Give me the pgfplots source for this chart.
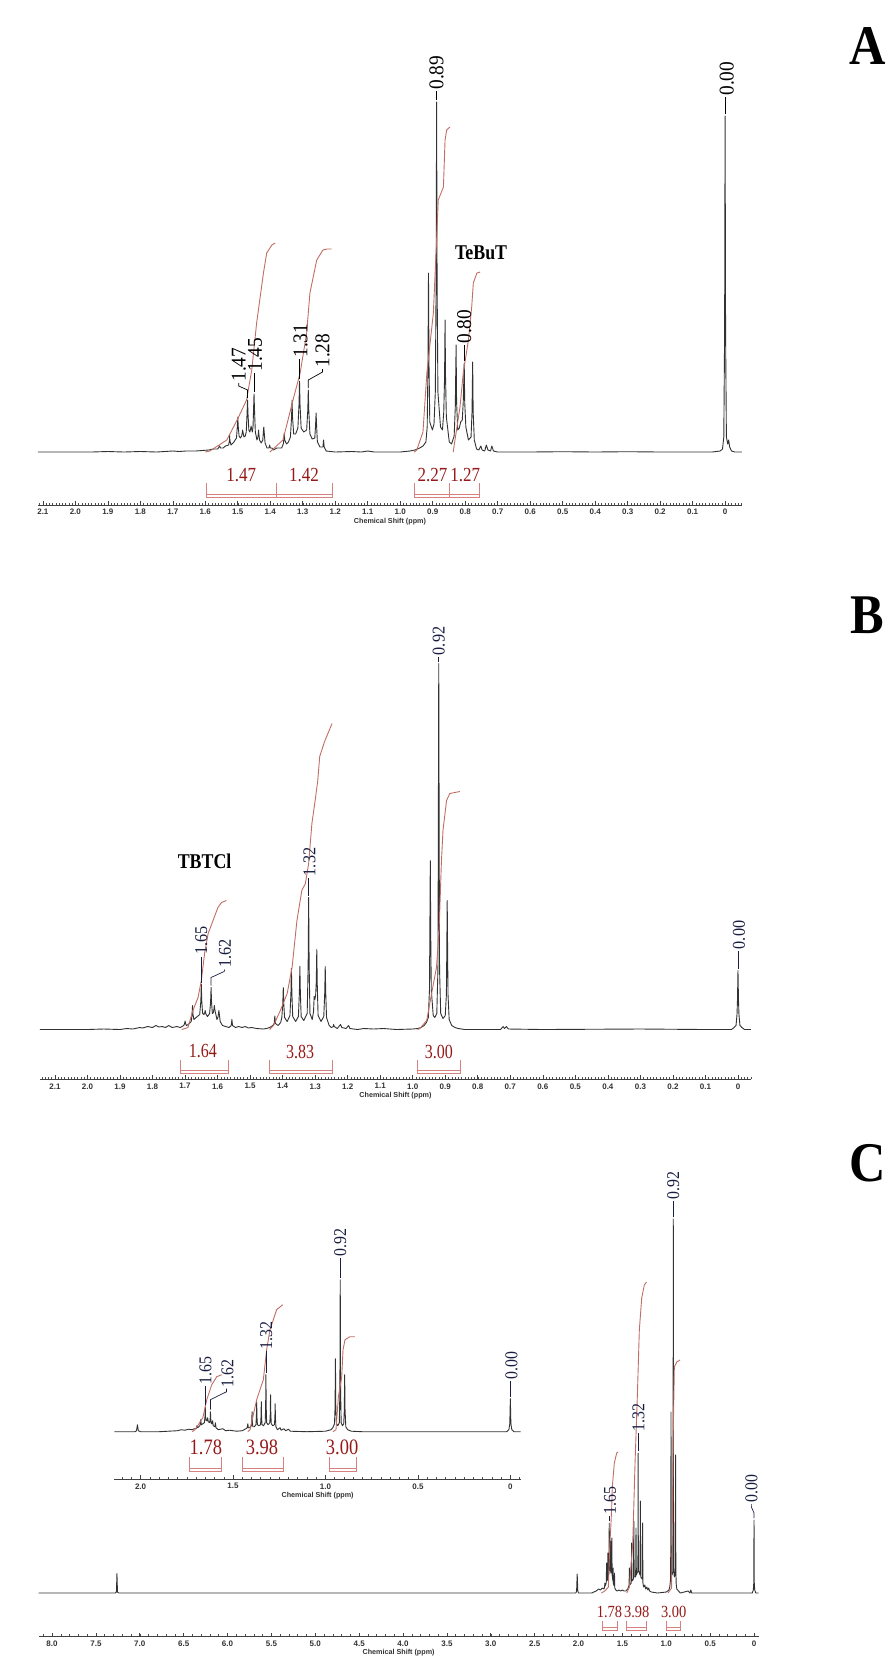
\documentclass[border=0pt]{standalone}
\usepackage{graphicx}
\usepackage{pgfplots}
\pgfplotsset{compat=1.18}
\usepackage{fontspec}
\setmainfont{Liberation Serif}
\newfontfamily\arialfont{Liberation Sans}
\definecolor{specc}{RGB}{50,50,50}
\definecolor{intc}{RGB}{192,110,100}
\definecolor{brkc}{RGB}{214,128,128}
\definecolor{intn}{RGB}{150,25,25}
\definecolor{navy}{RGB}{25,30,65}
\pgfplotsset{
 nmr/.style={scale only axis, clip=false, x dir=reverse, enlargelimits=false,
  axis x line*=bottom, axis y line=none,
  x axis line style={-, line width=0.4pt, black!75},
  tick align=inside, major tick length=2pt, minor tick length=1.2pt,
  major tick style={line width=0.3pt, black!75}, minor tick style={line width=0.25pt, black!70},
  xticklabel style={font=\arialfont\bfseries\fontsize{4}{4}\selectfont, text=black!80, inner sep=0pt, anchor=north, yshift=-2pt},
 },
 spec/.style={specc, line width=0.45pt, line join=round, mark=none},
 integ/.style={intc, line width=0.45pt, mark=none},
}
\tikzset{
 brk/.style={brkc, line width=0.45pt},
 lead/.style={line width=0.35pt},
 plA/.style={rotate=90, anchor=west, inner sep=0pt, font=\fontsize{10.5}{10.5}\selectfont},
 plB/.style={rotate=90, anchor=west, inner sep=0pt, font=\fontsize{9}{9}\selectfont, text=navy},
 csl/.style={font=\arialfont\bfseries\fontsize{3.6}{3.6}\selectfont, text=black!80, inner sep=0pt},
 inum/.style={inner sep=0pt, text=intn},
}
\begin{document}
\begin{tikzpicture}
\useasboundingbox (0,0) rectangle (444.5pt,-838.5pt);
% ---------------- Panel A ----------------
\begin{axis}[nmr, at={(19pt,-252.5pt)}, anchor=south west, width=352pt, height=232.5pt,
 xmin=-0.052, xmax=2.115, ymin=-53, ymax=412,
 xtick={0,0.1,0.2,0.3,0.4,0.5,0.6,0.7,0.8,0.9,1.0,1.1,1.2,1.3,1.4,1.5,1.6,1.7,1.8,1.9,2.0,2.1},
 xticklabels={0,0.1,0.2,0.3,0.4,0.5,0.6,0.7,0.8,0.9,1.0,1.1,1.2,1.3,1.4,1.5,1.6,1.7,1.8,1.9,2.0,2.1},
 minor xtick={-0.05,-0.04,...,2.11}]
\addplot[spec] coordinates {(2.115,0)(1.95,0)(1.90,0.5)(1.85,0)(1.80,0.5)(1.75,0)(1.70,1)(1.68,0.5)(1.66,1)(1.63,1)(1.61,1.5)(1.59,2)(1.575,3)(1.562,3)
(1.556,6)(1.553,4)(1.545,4)(1.538,6)
(1.528,7)(1.5255,12)(1.525,17)(1.5245,12)(1.521,7)(1.512,10)
(1.504,14)(1.5015,25)(1.500,35)(1.4985,25)(1.496,16)(1.492,14)
(1.488,16)(1.4865,19)(1.485,22)(1.4835,19)(1.481,15)(1.477,16)
(1.474,20)(1.4715,38)(1.470,52)(1.4685,38)(1.466,22)(1.463,20)
(1.4605,23)(1.459,26)(1.4575,23)(1.455,20)
(1.453,26)(1.4515,42)(1.450,58)(1.4485,42)(1.446,20)(1.441,12)
(1.438,15)(1.4365,19)(1.436,22)(1.4355,19)(1.433,12)(1.428,9)
(1.423,12)(1.4215,19)(1.420,25)(1.4185,19)(1.416,9)(1.41,4)
(1.404,4)(1.402,7)(1.400,4)(1.395,4)(1.39,2)(1.385,3)(1.38,4)(1.374,4)
(1.365,4)(1.360,8)(1.3585,12)(1.357,19)(1.3555,12)(1.350,8)(1.344,10)
(1.338,15)(1.3345,35)(1.333,52)(1.3315,35)(1.328,18)(1.322,18)
(1.315,24)(1.3115,48)(1.310,71)(1.3085,48)(1.305,24)(1.297,20)
(1.288,22)(1.2845,42)(1.283,62)(1.2815,42)(1.278,18)(1.271,13)
(1.263,14)(1.2605,27)(1.259,39)(1.2575,27)(1.255,10)(1.247,5)
(1.238,5)(1.236,12)(1.234,5)(1.228,1)(1.20,0)(1.15,0.5)(1.12,0)(1.10,1)(1.08,0)(1.05,0)(1.00,0)(0.97,1)(0.955,2)(0.94,4)(0.93,6)
(0.921,10)(0.917,25)(0.9145,90)(0.913,179)(0.9115,90)(0.909,30)(0.901,22)
(0.896,28)(0.892,60)(0.8895,170)(0.888,350)(0.8865,170)(0.884,60)(0.876,25)
(0.870,22)(0.866,40)(0.8635,75)(0.862,132)(0.8605,75)(0.858,35)(0.849,10)(0.842,8)
(0.834,16)(0.8305,45)(0.828,107)(0.8265,50)(0.823,22)(0.818,24)(0.814,30)
(0.809,32)(0.806,50)(0.803,89)(0.8015,50)(0.798,25)(0.790,12)
(0.782,15)(0.779,40)(0.777,90)(0.7755,40)(0.772,12)
(0.765,3)(0.758,2)(0.752,6)(0.748,2)(0.740,1)(0.735,7)(0.730,2)(0.722,1)(0.718,6)(0.713,1)(0.70,0)
(0.6,0)(0.5,0.3)(0.4,0)(0.3,0.3)(0.2,0)(0.1,0)(0.04,0)(0.015,1)(0.008,3)(0.004,15)(0.0015,120)(0,336)(-0.0015,120)(-0.004,15)(-0.008,8)(-0.011,12)(-0.014,5)(-0.02,1)(-0.03,0)(-0.052,0)};
% integrals
\addplot[integ] coordinates {(1.60,0)(1.586,1)(1.534,12)(1.502,32)(1.473,52)(1.457,82)(1.442,129)(1.421,179)(1.411,199)(1.395,207)(1.385,209)};
\addplot[integ] coordinates {(1.401,0)(1.361,12)(1.330,52)(1.308,79)(1.288,119)(1.278,159)(1.257,192)(1.238,202)(1.225,203)(1.211,203)};
\addplot[integ] coordinates {(0.957,0)(0.949,2)(0.930,20)(0.918,79)(0.898,139)(0.888,212)(0.883,252)(0.867,265)(0.862,312)(0.857,322)(0.847,325)};
\addplot[integ] coordinates {(0.837,0)(0.816,45)(0.806,79)(0.790,112)(0.780,145)(0.775,169)(0.764,179)(0.754,180)};
% peak labels
\draw[lead] (axis cs:0.888,352) -- (axis cs:0.888,361);
\node[plA] at (axis cs:0.888,362) {\scalebox{0.92}[1]{0.89}};
\draw[lead] (axis cs:0,338) -- (axis cs:0,355);
\node[plA] at (axis cs:-0.005,356) {\scalebox{0.92}[1]{0.00}};
\draw[lead] (axis cs:1.470,54) -- (axis cs:1.470,62) -- (axis cs:1.497,66) -- (axis cs:1.497,69);
\node[plA] at (axis cs:1.497,70) {\scalebox{0.92}[1]{1.47}};
\draw[lead] (axis cs:1.450,60) -- (axis cs:1.450,79);
\node[plA] at (axis cs:1.447,80) {\scalebox{0.92}[1]{1.45}};
\draw[lead] (axis cs:1.310,73) -- (axis cs:1.310,93);
\node[plA] at (axis cs:1.307,94) {\scalebox{0.92}[1]{1.31}};
\draw[lead] (axis cs:1.283,64) -- (axis cs:1.283,72) -- (axis cs:1.239,80) -- (axis cs:1.239,83);
\node[plA] at (axis cs:1.239,84) {\scalebox{0.92}[1]{1.28}};
\draw[lead] (axis cs:0.803,91) -- (axis cs:0.803,107);
\node[plA] at (axis cs:0.803,108) {\scalebox{0.92}[1]{0.80}};
\node[font=\bfseries\fontsize{10.5}{10.5}\selectfont, inner sep=0pt] at (axis cs:0.751,199) {\scalebox{0.85}[1]{TeBuT}};
% integral numbers and brackets
\node[inum, font=\fontsize{10}{10}\selectfont] at (axis cs:1.489,-23) {\scalebox{0.85}[1]{1.47}};
\node[inum, font=\fontsize{10}{10}\selectfont] at (axis cs:1.296,-23) {\scalebox{0.85}[1]{1.42}};
\node[inum, font=\fontsize{10}{10}\selectfont] at (axis cs:0.901,-23) {\scalebox{0.85}[1]{2.27}};
\node[inum, font=\fontsize{10}{10}\selectfont] at (axis cs:0.800,-23) {\scalebox{0.85}[1]{1.27}};
\draw[brk] (axis cs:1.598,-31.3) -- (axis cs:1.598,-45.3) -- (axis cs:1.382,-45.3) -- (axis cs:1.382,-31.3);
\draw[brk] (axis cs:1.598,-42.3) -- (axis cs:1.382,-42.3);
\draw[brk] (axis cs:1.382,-45.3) -- (axis cs:1.210,-45.3) -- (axis cs:1.210,-31.3);
\draw[brk] (axis cs:1.382,-42.3) -- (axis cs:1.210,-42.3);
\draw[brk] (axis cs:0.957,-31.3) -- (axis cs:0.957,-45.3) -- (axis cs:0.850,-45.3) -- (axis cs:0.850,-31.3);
\draw[brk] (axis cs:0.957,-42.3) -- (axis cs:0.850,-42.3);
\draw[brk] (axis cs:0.850,-45.3) -- (axis cs:0.757,-45.3) -- (axis cs:0.757,-31.3);
\draw[brk] (axis cs:0.850,-42.3) -- (axis cs:0.757,-42.3);
\node[csl] at (rel axis cs:0.5,0) [yshift=-8.5pt] {Chemical Shift (ppm)};
\end{axis}
% ---------------- Panel B ----------------
\begin{axis}[nmr, at={(20pt,-539.5pt)}, anchor=south west, width=355.5pt, height=254.5pt,
 xmin=-0.040, xmax=2.146, ymin=-49.5, ymax=459.5,
 xtick={0,0.1,0.2,0.3,0.4,0.5,0.6,0.7,0.8,0.9,1.0,1.1,1.2,1.3,1.4,1.5,1.6,1.7,1.8,1.9,2.0,2.1},
 xticklabels={0,0.1,0.2,0.3,0.4,0.5,0.6,0.7,0.8,0.9,1.0,1.1,1.2,1.3,1.4,1.5,1.6,1.7,1.8,1.9,2.0,2.1},
 minor xtick={-0.04,-0.03,...,2.14}]
\addplot[spec] coordinates {(2.146,0)(2.0,0)(1.95,0.5)(1.90,0)(1.88,1)(1.86,0.5)(1.84,2)(1.83,1.5)(1.815,3)(1.80,2)(1.79,4)(1.78,2.5)(1.77,3)(1.76,2)(1.75,4)(1.74,2)(1.725,3)(1.715,2)
(1.704,4)(1.7015,6)(1.700,8.5)(1.6985,6)(1.696,4)(1.69,5)
(1.681,8)(1.6785,15)(1.677,24)(1.6755,15)(1.673,10)(1.666,12)
(1.655,15)(1.6515,28)(1.650,45)(1.6485,28)(1.646,16)(1.642,15)
(1.6395,17)(1.638,19)(1.6365,16)(1.631,13)
(1.6245,16)(1.6215,27)(1.620,42)(1.6185,27)(1.616,16)(1.613,17)
(1.611,21)(1.610,24)(1.6085,20)(1.602,10)
(1.599,12)(1.5975,15)(1.596,19)(1.5945,15)(1.592,8)
(1.585,4)(1.575,3)(1.565,2)(1.558,4)(1.556,10)(1.554,4)
(1.545,2)(1.535,3)(1.525,2)(1.515,3)(1.505,1.5)(1.495,2)(1.48,1)(1.46,0.5)(1.45,1)(1.44,2)(1.43,4)
(1.426,6)(1.424,13.5)(1.422,6)(1.414,4)(1.406,7)
(1.4025,12)(1.3995,26)(1.398,42)(1.3965,26)(1.394,12)(1.386,8)
(1.3775,14)(1.3745,36)(1.373,61)(1.3715,36)(1.369,13)(1.360,8)
(1.3515,13)(1.3485,37)(1.347,63)(1.3455,37)(1.343,13)(1.335,9)
(1.3245,16)(1.3215,65)(1.320,132)(1.3185,65)(1.316,16)(1.309,10)
(1.305,18)(1.303,33)(1.301,30)
(1.2985,34)(1.2965,48)(1.295,80)(1.2935,45)(1.291,14)(1.282,8)
(1.2735,13)(1.2705,37)(1.269,63)(1.2675,37)(1.265,12)(1.257,4)(1.25,2)
(1.2445,3)(1.243,5)(1.2415,3)
(1.232,1)(1.222,5)(1.218,2)(1.205,1)(1.197,4)(1.193,1)(1.17,0)(1.15,1)(1.12,0.5)(1.09,1)(1.05,0)(1.0,0.5)(0.985,1)(0.975,2)(0.965,4)(0.958,7)
(0.952,12)(0.9485,40)(0.9475,90)(0.946,169)(0.9445,90)(0.943,40)(0.937,14)(0.932,12)
(0.926,16)(0.9225,60)(0.9215,170)(0.920,366)(0.9185,170)(0.9175,60)(0.914,16)(0.907,11)
(0.900,14)(0.8965,35)(0.8955,70)(0.894,129)(0.8925,70)(0.8915,35)(0.888,10)
(0.88,4)(0.87,2)(0.86,1)(0.84,0)(0.80,0)(0.73,0)(0.722,3)(0.718,1)(0.712,3)(0.706,0.5)(0.6,0)(0.3,0.5)(0.1,0)(0.02,0)(0.012,2)(0.006,4)(0.003,15)(0.0015,30)(0,59)(-0.0015,30)(-0.003,15)(-0.006,4)(-0.012,2)(-0.02,0)(-0.04,0)};
\addplot[integ] coordinates {(1.71,0)(1.691,2)(1.676,19)(1.660,32)(1.650,49)(1.640,76)(1.629,96)(1.614,109)(1.599,122)(1.588,127)(1.573,129)};
\addplot[integ] coordinates {(1.44,0)(1.428,4)(1.407,19)(1.386,36)(1.371,62)(1.356,109)(1.341,139)(1.330,146)(1.320,166)(1.310,206)(1.300,229)(1.292,249)(1.286,273)(1.271,288)(1.248,306)};
\addplot[integ] coordinates {(0.985,0)(0.978,1)(0.957,9)(0.942,36)(0.927,62)(0.919,99)(0.912,166)(0.907,199)(0.896,229)(0.886,236)(0.855,238)};
\draw[lead, navy] (axis cs:0.920,368) -- (axis cs:0.920,373);
\node[plB] at (axis cs:0.920,374) {\scalebox{0.9}[1]{0.92}};
\draw[lead, navy] (axis cs:0,61) -- (axis cs:0,79);
\node[plB] at (axis cs:-0.003,80) {\scalebox{0.9}[1]{0.00}};
\draw[lead, navy] (axis cs:1.320,134) -- (axis cs:1.320,152);
\node[plB] at (axis cs:1.317,153) {\scalebox{0.9}[1]{1.32}};
\draw[lead, navy] (axis cs:1.650,47) -- (axis cs:1.650,73);
\node[plB] at (axis cs:1.650,74.5) {\scalebox{0.9}[1]{1.65}};
\draw[lead, navy] (axis cs:1.620,44) -- (axis cs:1.620,52) -- (axis cs:1.580,58) -- (axis cs:1.578,60);
\node[plB] at (axis cs:1.577,61.5) {\scalebox{0.9}[1]{1.62}};
\node[font=\bfseries\fontsize{10.5}{10.5}\selectfont, inner sep=0pt] at (axis cs:1.64,168) {\scalebox{0.85}[1]{TBTCl}};
\node[inum, font=\fontsize{10}{10}\selectfont] at (axis cs:1.645,-22) {\scalebox{0.8}[1]{1.64}};
\node[inum, font=\fontsize{10}{10}\selectfont] at (axis cs:1.346,-22) {\scalebox{0.8}[1]{3.83}};
\node[inum, font=\fontsize{10}{10}\selectfont] at (axis cs:0.920,-22) {\scalebox{0.8}[1]{3.00}};
\draw[brk] (axis cs:1.714,-30.5) -- (axis cs:1.714,-43.5) -- (axis cs:1.568,-43.5) -- (axis cs:1.568,-30.5);
\draw[brk] (axis cs:1.714,-40.5) -- (axis cs:1.568,-40.5);
\draw[brk] (axis cs:1.440,-30.5) -- (axis cs:1.440,-43.5) -- (axis cs:1.248,-43.5) -- (axis cs:1.248,-30.5);
\draw[brk] (axis cs:1.440,-40.5) -- (axis cs:1.248,-40.5);
\draw[brk] (axis cs:0.985,-30.5) -- (axis cs:0.985,-43.5) -- (axis cs:0.854,-43.5) -- (axis cs:0.854,-30.5);
\draw[brk] (axis cs:0.985,-40.5) -- (axis cs:0.854,-40.5);
\node[csl] at (rel axis cs:0.5,0) [yshift=-8.5pt] {Chemical Shift (ppm)};
\end{axis}
% ---------------- Panel C main ----------------
\begin{axis}[nmr, at={(19.3pt,-818.25pt)}, anchor=south west, width=360pt, height=238.25pt,
 xmin=-0.052, xmax=8.153, ymin=-43.5, ymax=433,
 xtick={0,0.5,1,1.5,2,2.5,3,3.5,4,4.5,5,5.5,6,6.5,7,7.5,8},
 xticklabels={0,0.5,1.0,1.5,2.0,2.5,3.0,3.5,4.0,4.5,5.0,5.5,6.0,6.5,7.0,7.5,8.0},
 minor xtick={0,0.1,...,8.1}]
\addplot[spec] coordinates {(8.153,0)(7.5,0)(7.28,0)(7.266,1)(7.26,19.5)(7.254,1)(7.24,0)(5.0,0)(4.0,0)(3.0,0)(2.03,0)(2.022,2)(2.015,19)(2.008,2)(2.0,0)(1.85,0)(1.80,2)(1.77,4)(1.75,3)(1.73,5)(1.71,4)
(1.703,6)(1.70,10)(1.697,7)(1.684,10)(1.68,30)(1.676,12)(1.668,14)(1.665,40)(1.662,16)(1.654,20)(1.65,70)(1.646,25)
(1.638,22)(1.635,52)(1.632,20)(1.623,22)(1.62,55)(1.617,18)(1.608,12)(1.605,25)(1.602,9)(1.593,7)(1.59,20)(1.587,5)
(1.575,3)(1.56,2)(1.54,3)(1.52,2)(1.50,3)(1.48,2)(1.46,2)(1.44,4)(1.43,6)
(1.424,8)(1.42,25)(1.416,8)(1.399,10)(1.395,50)(1.391,12)(1.374,14)(1.37,72)(1.366,16)(1.349,16)(1.345,65)(1.341,18)
(1.324,22)(1.321,60)(1.32,140)(1.319,60)(1.316,22)(1.299,18)(1.295,92)(1.291,16)(1.274,14)(1.27,70)(1.266,10)
(1.258,6)(1.245,8)(1.235,4)(1.222,6)(1.21,3)(1.2,5)(1.19,2)(1.17,1)(1.1,0)(1.0,1)(0.97,3)(0.96,6)
(0.951,14)(0.948,60)(0.946,181)(0.944,60)(0.940,20)(0.933,18)
(0.925,22)(0.922,120)(0.920,374)(0.918,120)(0.915,22)(0.908,16)
(0.899,18)(0.896,45)(0.894,138)(0.892,45)(0.888,10)
(0.88,4)(0.86,2)(0.84,0)(0.75,2)(0.73,0)(0.72,3)(0.71,0)(0.5,0)(0.02,0)(0.008,3)(0.003,10)(0,73)(-0.003,10)(-0.008,3)(-0.02,0)(-0.052,0)};
\addplot[integ] coordinates {(1.74,0)(1.70,2)(1.66,6)(1.645,45)(1.630,70)(1.622,85)(1.615,106)(1.592,130)(1.565,140)(1.55,141)};
\addplot[integ] coordinates {(1.45,0)(1.42,6)(1.382,50)(1.356,130)(1.330,196)(1.307,263)(1.28,295)(1.25,308)(1.226,311)};
\addplot[integ] coordinates {(0.98,0)(0.94,5)(0.930,80)(0.920,163)(0.908,226)(0.881,231)(0.843,233)};
\draw[lead, navy] (axis cs:0.92,376) -- (axis cs:0.92,392);
\node[plB] at (axis cs:0.92,393) {\scalebox{0.88}[1]{0.92}};
\draw[lead, navy] (axis cs:1.32,142) -- (axis cs:1.32,160);
\node[plB] at (axis cs:1.315,161) {\scalebox{0.88}[1]{1.32}};
\draw[lead, navy] (axis cs:1.65,72) -- (axis cs:1.65,77);
\node[plB] at (axis cs:1.64,78) {\scalebox{0.88}[1]{1.65}};
\draw[lead, navy] (axis cs:0,75) -- (axis cs:0,80) -- (axis cs:0.03,86) -- (axis cs:0.03,89);
\node[plB] at (axis cs:0.03,90) {\scalebox{0.88}[1]{0.00}};
\node[inum, font=\fontsize{8.5}{8.5}\selectfont] at (axis cs:1.647,-19) {\scalebox{0.85}[1]{1.78}};
\node[inum, font=\fontsize{8.5}{8.5}\selectfont] at (axis cs:1.336,-19) {\scalebox{0.85}[1]{3.98}};
\node[inum, font=\fontsize{8.5}{8.5}\selectfont] at (axis cs:0.916,-19) {\scalebox{0.85}[1]{3.00}};
\draw[brk] (axis cs:1.73,-27.7) -- (axis cs:1.73,-37.6) -- (axis cs:1.56,-37.6) -- (axis cs:1.56,-27.7);
\draw[brk] (axis cs:1.73,-34.6) -- (axis cs:1.56,-34.6);
\draw[brk] (axis cs:1.453,-27.7) -- (axis cs:1.453,-37.6) -- (axis cs:1.226,-37.6) -- (axis cs:1.226,-27.7);
\draw[brk] (axis cs:1.453,-34.6) -- (axis cs:1.226,-34.6);
\draw[brk] (axis cs:1.0,-27.7) -- (axis cs:1.0,-37.6) -- (axis cs:0.84,-37.6) -- (axis cs:0.84,-27.7);
\draw[brk] (axis cs:1.0,-34.6) -- (axis cs:0.84,-34.6);
\node[csl] at (rel axis cs:0.5,0) [yshift=-8.25pt] {Chemical Shift (ppm)};
\end{axis}
% ---------------- Panel C inset ----------------
\begin{axis}[nmr, at={(57.25pt,-739.5pt)}, anchor=south west, width=203.1pt, height=129.5pt,
 xmin=-0.056, xmax=2.141, ymin=-47.3, ymax=211.7,
 xtick={0,0.5,1,1.5,2},
 xticklabels={0,0.5,1.0,1.5,2.0},
 minor xtick={-0.05,0,...,2.1}]
\addplot[spec] coordinates {(2.141,0)(2.03,0)(2.022,1)(2.017,7)(2.012,1)(2.0,0)(1.9,0)(1.80,1)(1.78,2)(1.76,1.5)(1.74,2.5)(1.72,2)(1.71,3)
(1.699,3)(1.695,6)(1.691,4)(1.679,6)(1.675,12)(1.671,7)
(1.655,9)(1.6515,15)(1.650,25)(1.6485,15)(1.645,11)
(1.640,11)(1.637,14)(1.634,10)
(1.626,9)(1.6235,13)(1.622,20)(1.6205,13)(1.617,8)
(1.613,8)(1.610,11)(1.607,6)(1.598,5)(1.595,9)(1.592,4)
(1.58,2)(1.555,3)(1.54,1)(1.52,1.5)(1.5,1)(1.48,0.5)(1.45,1)(1.43,3)
(1.423,4)(1.420,8)(1.417,4)(1.41,4)
(1.401,6)(1.3985,11)(1.397,20)(1.3955,11)(1.393,5)(1.385,5)
(1.376,7)(1.3735,15)(1.372,30)(1.3705,15)(1.368,7)(1.360,6)
(1.351,7)(1.3485,15)(1.347,30)(1.3455,15)(1.343,7)(1.335,6)
(1.326,9)(1.3235,25)(1.322,57)(1.3205,25)(1.318,9)(1.310,7)
(1.301,9)(1.2985,18)(1.297,37)(1.2955,18)(1.293,8)(1.285,6)
(1.276,7)(1.2735,14)(1.272,28)(1.2705,14)(1.268,5)
(1.26,2)(1.245,4)(1.24,1.5)(1.225,3)(1.215,1)(1.2,2.5)(1.19,0.5)(1.1,0)(1.0,0.5)(0.97,2)(0.96,4)
(0.951,8)(0.948,25)(0.946,73)(0.944,25)(0.940,8)(0.933,6)
(0.925,9)(0.922,40)(0.920,152)(0.918,40)(0.915,9)(0.908,6)
(0.901,8)(0.898,22)(0.896,57)(0.894,22)(0.890,5)
(0.88,2)(0.86,0.5)(0.8,0)(0.5,0)(0.02,0)(0.008,2)(0.003,8)(0,33)(-0.003,8)(-0.008,2)(-0.02,0)(-0.056,0)};
\addplot[integ] coordinates {(1.72,0)(1.706,2)(1.663,14)(1.642,32)(1.615,47)(1.588,55)(1.561,57)};
\addplot[integ] coordinates {(1.42,0)(1.408,2)(1.372,32)(1.336,52)(1.318,82)(1.300,102)(1.282,112)(1.264,122)(1.231,127)};
\addplot[integ] coordinates {(0.96,0)(0.943,2)(0.930,35)(0.912,55)(0.905,82)(0.894,92)(0.868,95)(0.841,95)};
\draw[lead, navy] (axis cs:0.92,154) -- (axis cs:0.92,174);
\node[plB] at (axis cs:0.92,175) {\scalebox{0.88}[1]{0.92}};
\draw[lead, navy] (axis cs:0,35) -- (axis cs:0,51);
\node[plB] at (axis cs:-0.006,52) {\scalebox{0.88}[1]{0.00}};
\draw[lead, navy] (axis cs:1.322,59) -- (axis cs:1.322,81);
\node[plB] at (axis cs:1.32,82) {\scalebox{0.88}[1]{1.32}};
\draw[lead, navy] (axis cs:1.650,27) -- (axis cs:1.650,46);
\node[plB] at (axis cs:1.648,47) {\scalebox{0.88}[1]{1.65}};
\draw[lead, navy] (axis cs:1.622,22) -- (axis cs:1.622,32) -- (axis cs:1.535,40) -- (axis cs:1.535,43);
\node[plB] at (axis cs:1.530,44) {\scalebox{0.88}[1]{1.62}};
\node[inum, font=\fontsize{11}{11}\selectfont] at (axis cs:1.647,-16) {\scalebox{0.84}[1]{1.78}};
\node[inum, font=\fontsize{11}{11}\selectfont] at (axis cs:1.343,-16) {\scalebox{0.84}[1]{3.98}};
\node[inum, font=\fontsize{11}{11}\selectfont] at (axis cs:0.910,-16) {\scalebox{0.84}[1]{3.00}};
\draw[brk] (axis cs:1.733,-25.7) -- (axis cs:1.733,-39.3) -- (axis cs:1.56,-39.3) -- (axis cs:1.56,-25.7);
\draw[brk] (axis cs:1.733,-36.3) -- (axis cs:1.56,-36.3);
\draw[brk] (axis cs:1.448,-25.7) -- (axis cs:1.448,-39.3) -- (axis cs:1.227,-39.3) -- (axis cs:1.227,-25.7);
\draw[brk] (axis cs:1.448,-36.3) -- (axis cs:1.227,-36.3);
\draw[brk] (axis cs:0.981,-25.7) -- (axis cs:0.981,-39.3) -- (axis cs:0.835,-39.3) -- (axis cs:0.835,-25.7);
\draw[brk] (axis cs:0.981,-36.3) -- (axis cs:0.835,-36.3);
\node[csl] at (rel axis cs:0.5,0) [yshift=-8.5pt] {Chemical Shift (ppm)};
\end{axis}
% panel letters
\node[font=\bfseries\fontsize{28}{28}\selectfont, inner sep=0pt] at (434pt,-23pt) {\scalebox{0.9}[1]{A}};
\node[font=\bfseries\fontsize{28}{28}\selectfont, inner sep=0pt] at (433.5pt,-307.5pt) {\scalebox{0.9}[1]{B}};
\node[font=\bfseries\fontsize{28}{28}\selectfont, inner sep=0pt] at (433.75pt,-581.5pt) {\scalebox{0.9}[1]{C}};
\end{tikzpicture}
\end{document}
